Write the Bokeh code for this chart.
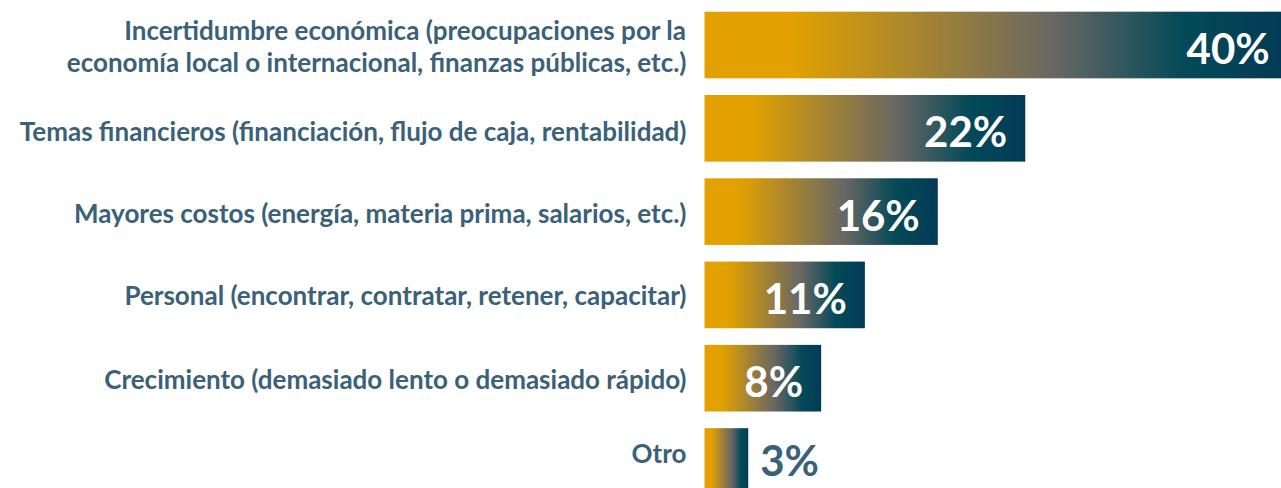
import numpy as np
from bokeh.plotting import figure
from bokeh.models import Range1d, ColumnDataSource
from bokeh.core.properties import value
from bokeh.embed import file_html
from bokeh.resources import INLINE

# ---- data ----
categories = [
    "Incertidumbre económica (preocupaciones por la\neconomía local o internacional, finanzas públicas, etc.)",
    "Temas financieros (financiación, flujo de caja, rentabilidad)",
    "Mayores costos (energía, materia prima, salarios, etc.)",
    "Personal (encontrar, contratar, retener, capacitar)",
    "Crecimiento (demasiado lento o demasiado rápido)",
    "Otro",
]
values = [40, 22, 16, 11, 8, 3]
value_labels = ["40%", "22%", "16%", "11%", "8%", "3%"]

# ---- layout ----
W, H = 1281, 488
PX_PER_UNIT = 14.58
X0 = 704
ROW = 83.3
TOP = 44.5
x_start = -X0 / PX_PER_UNIT
x_end = (W - X0) / PX_PER_UNIT
y_top = -TOP / ROW
y_bot = (H - TOP) / ROW
BAR_H = 0.80
label_dy = [1, 3, 1, 0, 1, -9]   # per-row screen offsets for category labels

LABEL_COLOR = "#3A6178"

p = figure(width=W, height=H, x_range=Range1d(x_start, x_end),
           y_range=Range1d(y_bot, y_top), output_backend="svg",
           toolbar_location=None, min_border=0)
p.axis.visible = False
p.grid.visible = False
p.outline_line_color = None
p.background_fill_color = "white"
p.border_fill_color = "white"

# gradient stops (fraction of bar length -> colour)
stops_t = [0.0, 0.15, 0.60, 0.82, 1.0]
stops_c = [(226, 161, 0), (226, 161, 0), (104, 103, 100), (4, 74, 88), (2, 58, 86)]

def gradient_image(n):
    t = (np.arange(n) + 0.5) / n
    img = np.zeros((2, n), dtype=np.uint32)
    view = img.view(dtype=np.uint8).reshape((2, n, 4))
    for ch in range(3):
        col = np.interp(t, stops_t, [c[ch] for c in stops_c])
        view[:, :, ch] = np.round(col).astype(np.uint8)[None, :]
    view[:, :, 3] = 255
    return img

ys = list(range(len(categories)))
for i, v in enumerate(values):
    n = max(int(round(v * PX_PER_UNIT)), 2)
    p.image_rgba(image=[gradient_image(n)], x=0, y=ys[i] - BAR_H / 2,
                 dw=v, dh=BAR_H)

# category labels
src_cat = ColumnDataSource(dict(x=[0] * len(categories), y=ys, t=categories,
                                dy=label_dy))
p.text(x="x", y="y", text="t", source=src_cat, x_offset=-18, y_offset="dy",
       text_align="right", text_baseline="middle",
       text_font=value("Lato"), text_font_style="bold",
       text_font_size="26px", text_color=LABEL_COLOR, text_line_height=1.03)

# value labels
inside = [i for i, v in enumerate(values) if v >= 5]
outside = [i for i, v in enumerate(values) if v < 5]
src_in = ColumnDataSource(dict(x=[values[i] for i in inside],
                               y=[ys[i] for i in inside],
                               t=[value_labels[i] for i in inside]))
src_out = ColumnDataSource(dict(x=[values[i] for i in outside],
                                y=[ys[i] for i in outside],
                                t=[value_labels[i] for i in outside]))
p.text(x="x", y="y", text="t", source=src_in, x_offset=-18, y_offset=3,
       text_align="right", text_baseline="middle",
       text_font=value("Lato"), text_font_style="bold",
       text_font_size="42px", text_color="white")
p.text(x="x", y="y", text="t", source=src_out, x_offset=12, y_offset=-2,
       text_align="left", text_baseline="middle",
       text_font=value("Lato"), text_font_style="bold",
       text_font_size="42px", text_color=LABEL_COLOR)

open("out.html", "w").write(file_html(p, INLINE))
